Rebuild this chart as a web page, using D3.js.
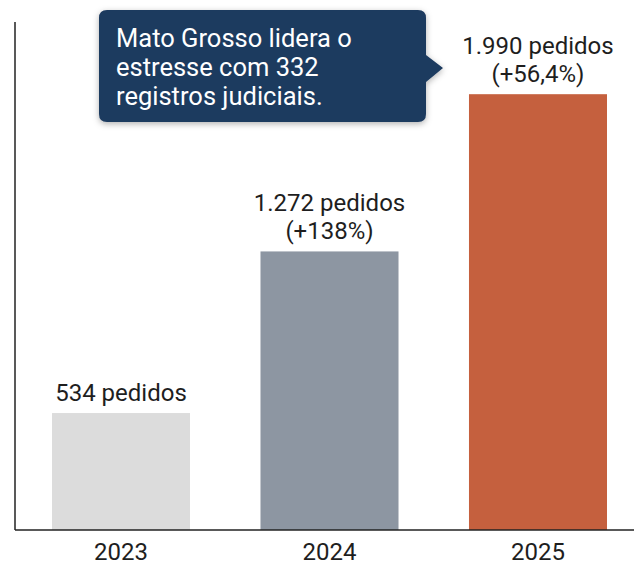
<!DOCTYPE html>
<html>
<head>
<meta charset="utf-8">
<script src="https://cdn.jsdelivr.net/npm/d3@7"></script>
<style>
  body { margin: 0; background: #fff; }
</style>
</head>
<body>
<div id="chart"></div>
<script>
// data
const years = ["2023", "2024", "2025"];
const pedidos = [534, 1272, 1990];
const labelLines = [["534 pedidos"], ["1.272 pedidos", "(+138%)"], ["1.990 pedidos", "(+56,4%)"]];
const barColors = ["#dcdcdc", "#8d96a2", "#c5603e"];
const calloutLines = ["Mato Grosso lidera o", "estresse com 332", "registros judiciais."];

const width = 634;
const height = 568;
const marginTop = 22;
const marginBottom = 38;
const marginLeft = 15;
const baseY = height - marginBottom;

const x = d3.scaleBand()
  .domain(years)
  .range([marginLeft, 644])
  .paddingInner(0.338)
  .paddingOuter(0.1775);

const y = d3.scaleLinear()
  .domain([0, 2450])
  .range([baseY, baseY - 2450 * 0.219]);

const svg = d3.create("svg")
  .attr("width", width)
  .attr("height", height)
  .style("font-family", "Roboto, sans-serif");

const defs = svg.append("defs");
const shadow = defs.append("filter").attr("id", "shadow")
  .attr("x", "-10%").attr("y", "-10%").attr("width", "120%").attr("height", "130%");
shadow.append("feDropShadow")
  .attr("dx", 0).attr("dy", 2).attr("stdDeviation", 3)
  .attr("flood-color", "#000").attr("flood-opacity", 0.3);

// bars
svg.append("g")
  .selectAll("rect")
  .data(pedidos)
  .join("rect")
  .attr("x", (d, i) => x(years[i]))
  .attr("y", d => y(d))
  .attr("width", x.bandwidth())
  .attr("height", d => baseY - y(d))
  .attr("fill", (d, i) => barColors[i]);

// value labels
const labels = svg.append("g")
  .selectAll("text")
  .data(pedidos)
  .join("text")
  .attr("text-anchor", "middle")
  .attr("font-size", "24px")
  .attr("fill", "#1e1e1e")
  .attr("x", (d, i) => x(years[i]) + x.bandwidth() / 2)
  .attr("y", (d, i) => y(d) - 12 - (labelLines[i].length - 1) * 28);
labels.each(function(d, i) {
  d3.select(this).selectAll("tspan")
    .data(labelLines[i])
    .join("tspan")
    .attr("x", x(years[i]) + x.bandwidth() / 2)
    .attr("dy", (t, j) => j === 0 ? 0 : 28)
    .text(t => t);
});

// axes
svg.append("line")
  .attr("x1", marginLeft).attr("x2", marginLeft)
  .attr("y1", marginTop).attr("y2", baseY)
  .attr("stroke", "#222").attr("stroke-width", 1.5);

svg.append("g")
  .attr("transform", `translate(0,${baseY})`)
  .call(d3.axisBottom(x).tickSize(0).tickPadding(13))
  .call(g => g.select(".domain").attr("d", `M${marginLeft},0H${width}`)
    .attr("stroke", "#222").attr("stroke-width", 1.5))
  .call(g => g.selectAll("text")
    .attr("font-family", "Roboto, sans-serif")
    .attr("font-size", "24px")
    .attr("fill", "#1e1e1e"));

// callout
const callout = svg.append("g").attr("filter", "url(#shadow)");
callout.append("path")
  .attr("d", "M107,10 H418 Q426,10 426,18 V55 L443,68 L426,82 V114 Q426,122 418,122 H107 Q99,122 99,114 V18 Q99,10 107,10 Z")
  .attr("fill", "#1d3a5f");

svg.append("text")
  .attr("font-size", "25.5px")
  .attr("fill", "#fff")
  .selectAll("tspan")
  .data(calloutLines)
  .join("tspan")
  .attr("x", 116)
  .attr("y", (d, i) => 47 + i * 29)
  .text(d => d);

document.getElementById("chart").append(svg.node());
</script>
</body>
</html>
